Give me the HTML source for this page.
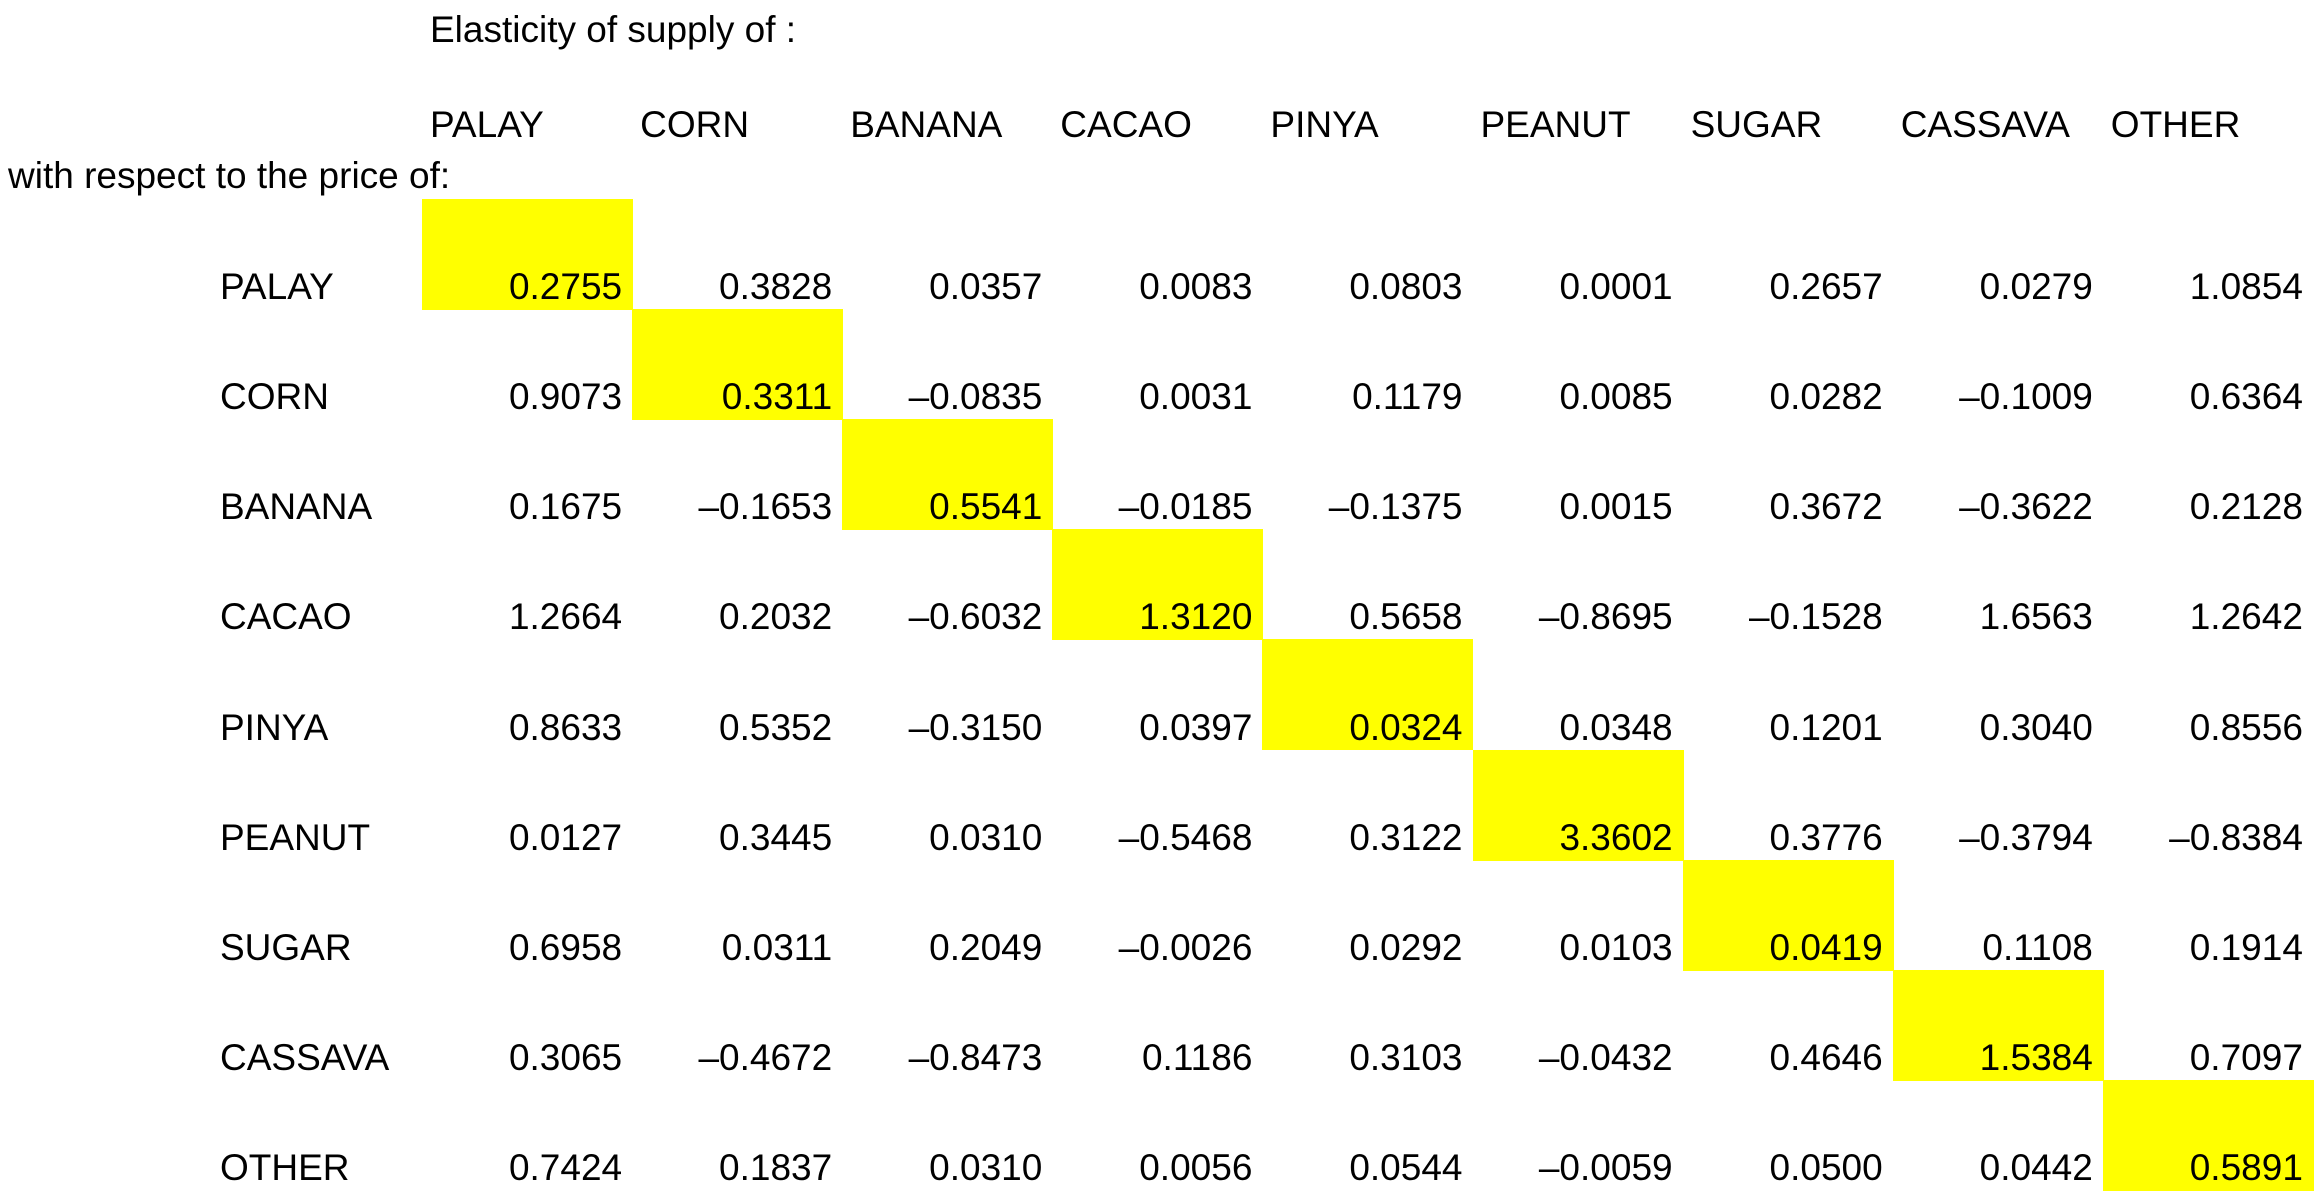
<!DOCTYPE html>
<html><head><meta charset="utf-8"><style>
html,body{margin:0;padding:0;background:#fff;}
body{width:2315px;height:1193px;position:relative;overflow:hidden;font-family:"Liberation Sans",Arial,sans-serif;color:#000;}
.t{position:absolute;font-size:37px;white-space:nowrap;line-height:1;}
.hl{position:absolute;background:#ffff00;}
</style></head><body>
<div class="t" style="left:430px;top:11px;">Elasticity of supply of :</div>
<div class="t" style="left:8px;top:157px;">with respect to the price of:</div>
<div id="grid"></div>
<script>
const supplyCrops = ["PALAY","CORN","BANANA","CACAO","PINYA","PEANUT","SUGAR","CASSAVA","OTHER"];
const priceCrops = ["PALAY","CORN","BANANA","CACAO","PINYA","PEANUT","SUGAR","CASSAVA","OTHER"];
const rowPalay = [0.2755,0.3828,0.0357,0.0083,0.0803,0.0001,0.2657,0.0279,1.0854];
const rowCorn = [0.9073,0.3311,-0.0835,0.0031,0.1179,0.0085,0.0282,-0.1009,0.6364];
const rowBanana = [0.1675,-0.1653,0.5541,-0.0185,-0.1375,0.0015,0.3672,-0.3622,0.2128];
const rowCacao = [1.2664,0.2032,-0.6032,1.3120,0.5658,-0.8695,-0.1528,1.6563,1.2642];
const rowPinya = [0.8633,0.5352,-0.3150,0.0397,0.0324,0.0348,0.1201,0.3040,0.8556];
const rowPeanut = [0.0127,0.3445,0.0310,-0.5468,0.3122,3.3602,0.3776,-0.3794,-0.8384];
const rowSugar = [0.6958,0.0311,0.2049,-0.0026,0.0292,0.0103,0.0419,0.1108,0.1914];
const rowCassava = [0.3065,-0.4672,-0.8473,0.1186,0.3103,-0.0432,0.4646,1.5384,0.7097];
const rowOther = [0.7424,0.1837,0.0310,0.0056,0.0544,-0.0059,0.0500,0.0442,0.5891];
const rows = [rowPalay,rowCorn,rowBanana,rowCacao,rowPinya,rowPeanut,rowSugar,rowCassava,rowOther];

const X0=422, CW=210.1, Y0=199, RH=110.1;
const colX = i => X0 + i*CW;
const rowY = j => Y0 + j*RH;
const g = document.getElementById('grid');
function fmt(v){ return (v<0?'\u2013':'') + Math.abs(v).toFixed(4); }

supplyCrops.forEach((c,i)=>{
  const d=document.createElement('div');
  d.className='t';
  
  
  d.style.left=(colX(i)+8)+'px';
  d.style.top='106px';
  d.textContent=c;
  g.appendChild(d);
});
priceCrops.forEach((c,j)=>{
  const d=document.createElement('div');
  d.className='t';
  
  
  d.style.left='220px';
  d.style.top=(rowY(j)+RH-41)+'px';
  d.textContent=c;
  g.appendChild(d);
});
rows.forEach((r,j)=>{
  r.forEach((v,i)=>{
    if(i===j){
      const h=document.createElement('div');
      h.className='hl';
      
      
      h.style.left=colX(i)+'px';
      h.style.top=rowY(j)+'px';
      h.style.width=(CW+1)+'px';
      h.style.height=(RH+1)+'px';
      g.appendChild(h);
    }
    const d=document.createElement('div');
    d.className='t';
    
    
    d.style.right=(2315-(colX(i)+CW-10))+'px';
    d.style.top=(rowY(j)+RH-41)+'px';
    d.textContent=fmt(v);
    g.appendChild(d);
  });
});
</script>
</body></html>
